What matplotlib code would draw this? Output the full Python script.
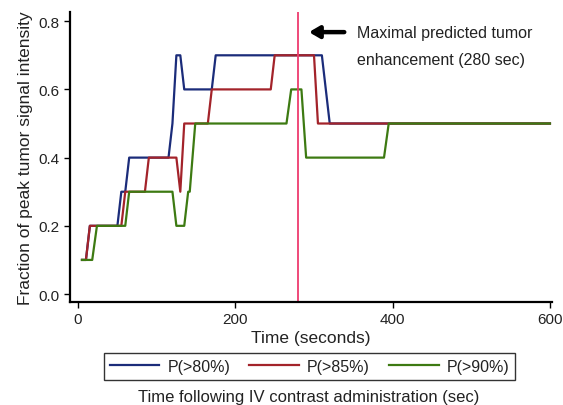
import matplotlib
matplotlib.use("Agg")
import matplotlib.pyplot as plt

plt.rcParams['font.family'] = ['Liberation Sans', 'DejaVu Sans']

# P(>80%)
t80 = [5, 10, 15, 50, 55, 60, 65, 115, 120, 125, 130, 135, 170, 175, 310, 320, 600]
v80 = [0.1, 0.1, 0.2, 0.2, 0.3, 0.3, 0.4, 0.4, 0.5, 0.7, 0.7, 0.6, 0.6, 0.7, 0.7, 0.5, 0.5]
# P(>85%)
t85 = [5, 10, 15, 55, 60, 85, 90, 125, 130, 135, 165, 170, 245, 250, 300, 305, 600]
v85 = [0.1, 0.1, 0.2, 0.2, 0.3, 0.3, 0.4, 0.4, 0.3, 0.5, 0.5, 0.6, 0.6, 0.7, 0.7, 0.5, 0.5]
# P(>90%)
t90 = [5, 18, 24, 60, 65, 120, 125, 135, 140, 142, 149, 265, 271, 284, 290, 389, 395, 600]
v90 = [0.1, 0.1, 0.2, 0.2, 0.3, 0.3, 0.2, 0.2, 0.3, 0.3, 0.5, 0.5, 0.6, 0.6, 0.4, 0.4, 0.5, 0.5]

peak_time = 280
labels = ["P(>80%)", "P(>85%)", "P(>90%)"]
colors = ["#1b2c7a", "#a3232a", "#3d7a12"]

fig = plt.figure(figsize=(5.63, 4.06), dpi=100)
ax = fig.add_axes([0.124, 0.254, 0.857, 0.714])

for t, v, lab, c in zip([t80, t85, t90], [v80, v85, v90], labels, colors):
    ax.plot(t, v, color=c, lw=1.6, label=lab)

ax.axvline(peak_time, color="#ee3b6e", lw=1.3)

ax.annotate("", xy=(290, 0.768), xytext=(342, 0.768),
            arrowprops=dict(arrowstyle="-|>,head_length=0.6,head_width=0.35",
                            color="black", lw=3.2))
ax.text(355, 0.768, "Maximal predicted tumor", fontsize=11.5,
        va="center", ha="left", color="#222222")
ax.text(355, 0.689, "enhancement (280 sec)", fontsize=11.5,
        va="center", ha="left", color="#222222")

ax.set_xlim(-10.5, 603)
ax.set_ylim(-0.023, 0.827)
ax.set_xticks([0, 200, 400, 600])
ax.set_yticks([0.0, 0.2, 0.4, 0.6, 0.8])
ax.set_yticklabels(["0.0", "0.2", "0.4", "0.6", "0.8"])
for s in ["top", "right"]:
    ax.spines[s].set_visible(False)
for s in ["left", "bottom"]:
    ax.spines[s].set_linewidth(1.6)
ax.tick_params(axis="both", labelsize=11, length=4, width=1, colors="black",
               labelcolor="#222222")
ax.set_xlabel("Time (seconds)", fontsize=12.5, color="#222222", labelpad=3)
ax.set_ylabel("Fraction of peak tumor signal intensity", fontsize=12.5,
              color="#222222", labelpad=4)

leg = ax.legend(loc="upper center", bbox_to_anchor=(0.497, -0.178), ncol=3,
                frameon=True, fancybox=False, edgecolor="black", fontsize=11.5,
                handlelength=3.1, columnspacing=1.2, borderpad=0.35,
                handletextpad=0.5, borderaxespad=0)
leg.get_frame().set_linewidth(1.0)
for txt in leg.get_texts():
    txt.set_color("#222222")

fig.text(0.548, 0.022, "Time following IV contrast administration (sec)",
         fontsize=12, ha="center", va="center", color="#222222")

fig.savefig("out.png", dpi=100)
